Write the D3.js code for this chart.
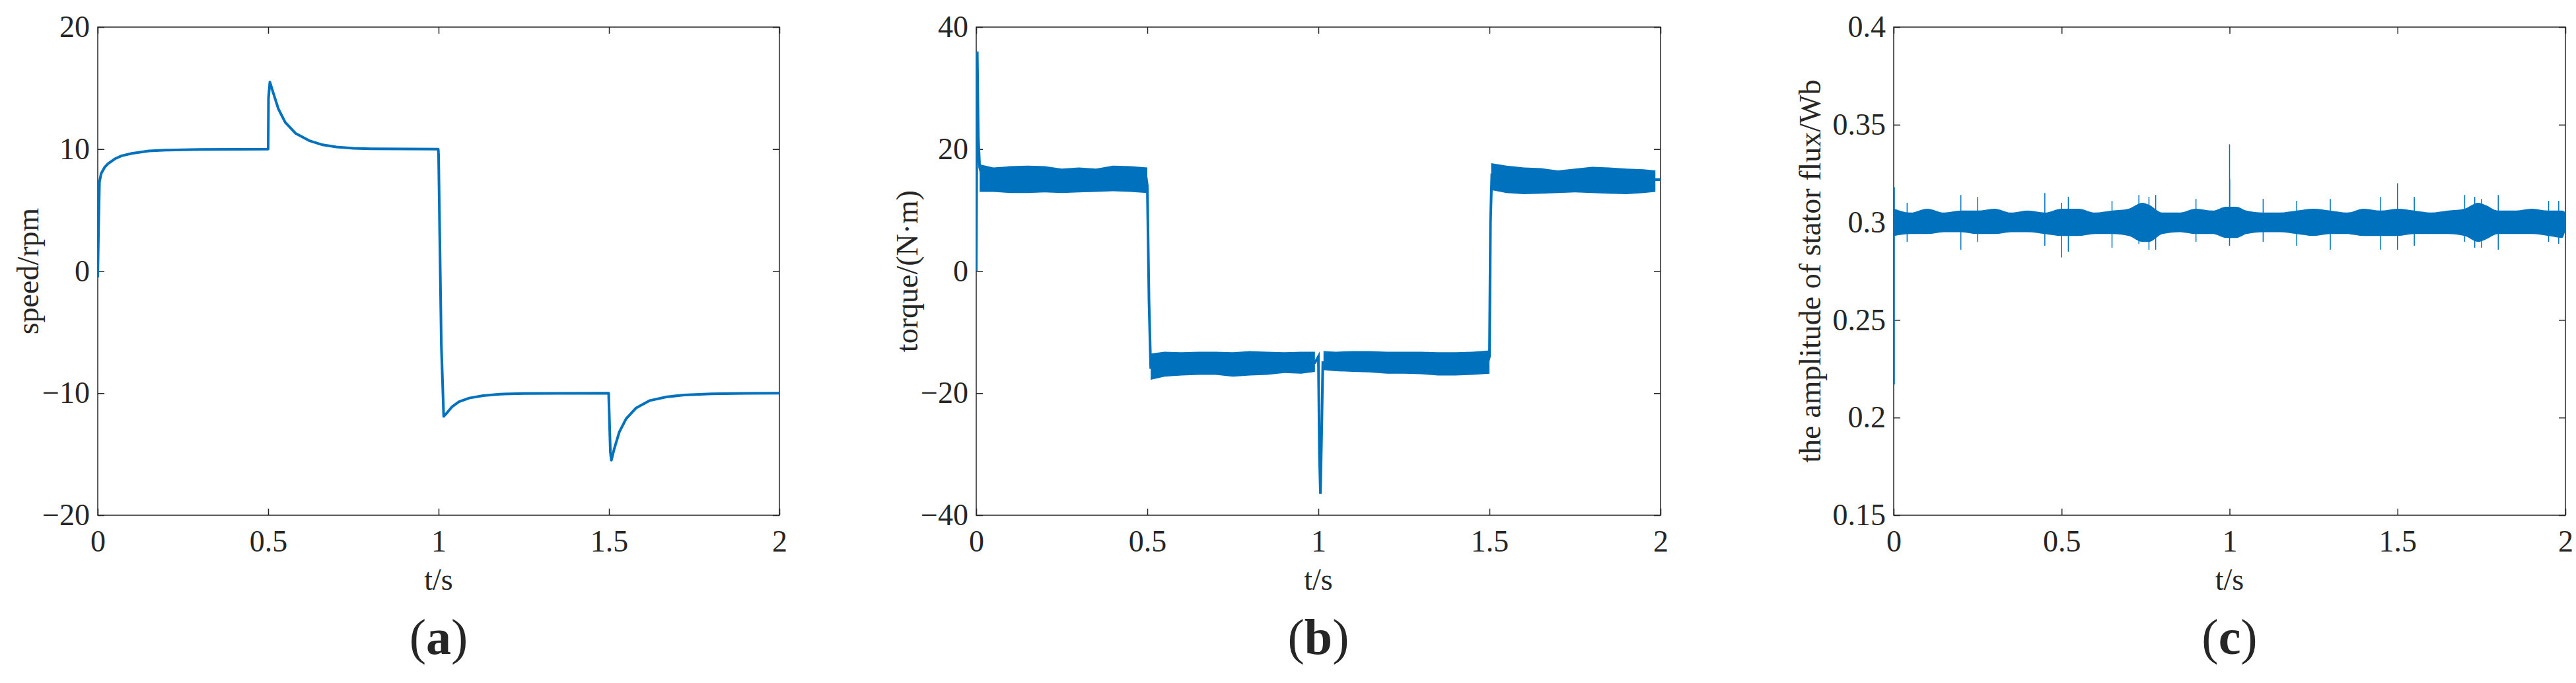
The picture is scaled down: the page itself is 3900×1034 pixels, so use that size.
<!DOCTYPE html>
<html><head><meta charset="utf-8">
<script src="https://cdn.jsdelivr.net/npm/d3@7"></script>
<style>body{margin:0;background:#fff}svg{display:block}text{font-family:"Liberation Serif","Times New Roman",serif;fill:#262626}</style>
</head><body>
<svg id="c" width="3900" height="1034"></svg>
<script>
// ---- data ----
const xTicks = [0, 0.5, 1, 1.5, 2];
const speedTicks = [-20, -10, 0, 10, 20];
const torqueTicks = [-40, -20, 0, 20, 40];
const fluxTicks = [0.15, 0.2, 0.25, 0.3, 0.35, 0.4];

const speedT = [0,0.002,0.005,0.01,0.02,0.03,0.05,0.07,0.1,0.15,0.2,0.3,0.5,0.501,0.505,0.515,0.53,0.55,0.58,0.62,0.66,0.7,0.75,0.8,0.9,0.999,1.0,1.008,1.015,1.025,1.04,1.06,1.09,1.13,1.18,1.25,1.35,1.499,1.5,1.504,1.507,1.515,1.53,1.55,1.58,1.62,1.67,1.72,1.8,1.9,2.0];
const speedV = [-0.5,3,7.3,8,8.5,8.8,9.2,9.45,9.65,9.85,9.92,9.97,10,14.2,15.5,14.6,13.3,12.2,11.3,10.7,10.35,10.18,10.07,10.03,10.01,10,9.5,-6,-11.9,-11.6,-11.1,-10.7,-10.4,-10.2,-10.08,-10.03,-10.01,-10,-11,-14.8,-15.5,-14.6,-13.2,-12.1,-11.2,-10.6,-10.3,-10.15,-10.06,-10.02,-10];

const torqueLineT = [0,0.003,0.006,0.01,0.02, 0.495,0.5,0.505,0.51,0.515, 0.99,1.0,1.003,1.006,1.01,1.013, 1.495,1.5,1.503,1.507,1.512, 1.99,2.0];
const torqueLineV = [0,36,22,17,15, 16,14,-5,-16,-15, -15,-14,-30,-36.5,-25,-15, -15,-14,8,16,15, 15,15];
const torqueBandT = [0.01,0.05,0.1,0.15,0.2,0.25,0.3,0.35,0.4,0.45,0.5, null, 0.51,0.55,0.6,0.65,0.7,0.75,0.8,0.85,0.9,0.95,0.99, null, 1.015,1.05,1.1,1.15,1.2,1.25,1.3,1.35,1.4,1.45,1.5, null, 1.505,1.55,1.6,1.65,1.7,1.75,1.8,1.85,1.9,1.95,1.985];
const torqueBandHi = [17.5,17,17.2,17.3,17.2,16.8,17,16.8,17.3,17.2,17, null, -13.5,-13.2,-13.3,-13.2,-13.2,-13.3,-13.1,-13.2,-13.3,-13.2,-13.2, null, -13.1,-13.2,-13.1,-13.1,-13.2,-13.2,-13.2,-13.3,-13.3,-13.2,-13, null, 17.7,17.3,17,16.9,16.5,16.8,17.1,17,16.8,16.7,16.5];
const torqueBandLo = [13,13,12.8,12.8,12.9,12.8,12.9,13,13.1,13,12.8, null, -17.8,-17.3,-17.1,-17,-17,-17.3,-17.1,-17,-16.7,-16.8,-16.5, null, -16.2,-16.4,-16.5,-16.6,-16.8,-16.8,-16.9,-17.1,-17.1,-17,-16.8, null, 13.3,12.8,12.6,12.7,12.8,12.9,12.8,12.7,12.6,12.8,13];

const fluxBandT = [0.002,0.05,0.1,0.15,0.2,0.25,0.3,0.35,0.4,0.45,0.5,0.55,0.6,0.65,0.7,0.74,0.76,0.8,0.85,0.9,0.95,0.99,1.02,1.05,1.1,1.15,1.2,1.25,1.3,1.35,1.4,1.45,1.5,1.55,1.6,1.65,1.7,1.74,1.76,1.8,1.85,1.9,1.95,1.99,2.0];
const fluxBandHi = [0.307,0.305,0.307,0.305,0.306,0.306,0.307,0.305,0.306,0.305,0.307,0.307,0.305,0.306,0.307,0.31,0.309,0.305,0.305,0.307,0.306,0.308,0.308,0.306,0.305,0.305,0.306,0.307,0.306,0.305,0.307,0.306,0.307,0.306,0.305,0.306,0.307,0.31,0.309,0.306,0.306,0.307,0.306,0.306,0.305];
const fluxBandLo = [0.293,0.294,0.294,0.295,0.295,0.294,0.294,0.295,0.295,0.294,0.293,0.293,0.294,0.294,0.293,0.29,0.29,0.294,0.295,0.294,0.294,0.292,0.292,0.294,0.295,0.295,0.294,0.293,0.294,0.294,0.293,0.293,0.293,0.294,0.294,0.294,0.293,0.29,0.291,0.294,0.294,0.294,0.293,0.292,0.296];
const fluxSpikeT = [0.002,0.04,0.2,0.25,0.45,0.5,0.52,0.65,0.73,0.76,0.78,0.9,1.0,1.0005,1.1,1.2,1.3,1.45,1.5,1.55,1.7,1.73,1.75,1.8,1.95,1.98];
const fluxSpikeHi = [0.318,0.31,0.314,0.313,0.315,0.31,0.313,0.311,0.314,0.313,0.314,0.312,0.34,0.322,0.312,0.311,0.312,0.313,0.32,0.313,0.314,0.313,0.312,0.314,0.311,0.311];
const fluxSpikeLo = [0.217,0.29,0.286,0.29,0.288,0.282,0.285,0.287,0.289,0.286,0.286,0.29,0.288,0.292,0.29,0.288,0.286,0.286,0.286,0.288,0.29,0.287,0.287,0.286,0.29,0.289];

// ---- drawing ----
const svg = d3.select("#c");
const color = "#0072BD";
const plotTop = 41, plotBottom = 780;

function panel(left, right, ydom, yticks, ylabel, ylabelX, letter, fmt) {
  const x = d3.scaleLinear().domain([0, 2]).range([left, right]);
  const y = d3.scaleLinear().domain(ydom).range([plotBottom, plotTop]);
  const g = svg.append("g");
  g.append("rect").attr("x", left).attr("y", plotTop).attr("width", right-left).attr("height", plotBottom-plotTop)
    .attr("fill", "none").attr("stroke", "#262626").attr("stroke-width", 1.5);
  const ax = d3.axisBottom(x).tickValues(xTicks).tickSize(-10).tickPadding(22).tickFormat(d3.format("~g"));
  const ay = d3.axisLeft(y).tickValues(yticks).tickSize(-10).tickPadding(12).tickFormat(fmt);
  const axr = d3.axisRight(y).tickValues(yticks).tickSize(-10).tickFormat("");
  const axt = d3.axisTop(x).tickValues(xTicks).tickSize(-10).tickFormat("");
  [[ax, `translate(0,${plotBottom})`], [ay, `translate(${left},0)`], [axr, `translate(${right},0)`], [axt, `translate(0,${plotTop})`]].forEach(([a, tr]) => {
    const gg = g.append("g").attr("transform", tr).call(a);
    gg.select(".domain").remove();
    gg.selectAll("line").attr("stroke", "#262626").attr("stroke-width", 1.5);
    gg.selectAll("text").style("font-size", "46px").attr("fill", "#262626").style("font-family", '"Liberation Serif",serif');
  });
  g.append("text").attr("transform", `translate(${ylabelX},${(plotTop+plotBottom)/2}) rotate(-90)`)
    .attr("text-anchor", "middle").attr("dy", "0.35em").style("font-size", "46px").text(ylabel);
  g.append("text").attr("x", (left+right)/2).attr("y", 893).attr("text-anchor", "middle").style("font-size", "46px").text("t/s");
  const lt = g.append("text").attr("x", (left+right)/2).attr("y", 990).attr("text-anchor", "middle").style("font-size", "76px").attr("fill", "#000");
  lt.append("tspan").text("(");
  lt.append("tspan").attr("font-weight", "bold").text(letter);
  lt.append("tspan").text(")");
  const clip = "clip" + letter;
  svg.append("clipPath").attr("id", clip).append("rect").attr("x", left).attr("y", plotTop-2).attr("width", right-left+4).attr("height", plotBottom-plotTop+4);
  const pg = svg.append("g").attr("clip-path", `url(#${clip})`);
  return {x, y, g: pg};
}

// (a)
{
  const p = panel(148, 1180, [-20, 20], speedTicks, "speed/rpm", 42, "a", d3.format("~g"));
  p.g.append("path").datum(speedT.map((t, i) => [t, speedV[i]]))
    .attr("d", d3.line().x(d => p.x(d[0])).y(d => p.y(d[1])))
    .attr("fill", "none").attr("stroke", color).attr("stroke-width", 4).attr("stroke-linejoin", "round");
}
// (b)
{
  const p = panel(1478, 2514, [-40, 40], torqueTicks, "torque/(N·m)", 1373, "b", d3.format("~g"));
  const band = torqueBandT.map((t, i) => ({t, hi: torqueBandHi[i], lo: torqueBandLo[i]}));
  p.g.append("path").datum(band)
    .attr("d", d3.area().defined(d => d.t !== null).x(d => p.x(d.t)).y0(d => p.y(d.lo)).y1(d => p.y(d.hi)))
    .attr("fill", color);
  p.g.append("path").datum(torqueLineT.map((t, i) => [t, torqueLineV[i]]))
    .attr("d", d3.line().x(d => p.x(d[0])).y(d => p.y(d[1])))
    .attr("fill", "none").attr("stroke", color).attr("stroke-width", 4);
}
// (c)
{
  const p = panel(2867, 3884, [0.15, 0.4], fluxTicks, "the amplitude of stator flux/Wb", 2740, "c", d3.format("~g"));
  const band = fluxBandT.map((t, i) => ({t, hi: fluxBandHi[i], lo: fluxBandLo[i]}));
  p.g.append("path").datum(band)
    .attr("d", d3.area().curve(d3.curveMonotoneX).x(d => p.x(d.t)).y0(d => p.y(d.lo)).y1(d => p.y(d.hi)))
    .attr("fill", color);
  p.g.selectAll("line.sp").data(fluxSpikeT.map((t, i) => ({t, hi: fluxSpikeHi[i], lo: fluxSpikeLo[i]})))
    .enter().append("line").attr("x1", d => p.x(d.t)).attr("x2", d => p.x(d.t))
    .attr("y1", d => p.y(d.hi)).attr("y2", d => p.y(d.lo)).attr("stroke", color).attr("stroke-width", 1.5);
}
</script>
</body></html>
